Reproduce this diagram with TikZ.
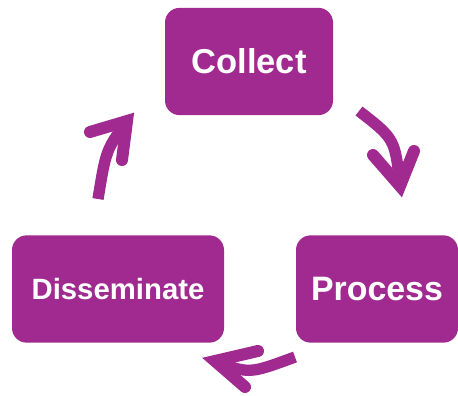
\documentclass[tikz,border=0pt]{standalone}
\usepackage{fontspec}
\setmainfont{Liberation Sans}

\definecolor{cyclepurple}{RGB}{160,42,143}

\tikzstyle{stage} = [rectangle, rounded corners=11pt, fill=cyclepurple,
    text=white, inner sep=0pt, minimum height=80.5pt]
\tikzstyle{cycleshaft} = [draw=cyclepurple, line width=8.5pt, line cap=butt]
\tikzstyle{cyclehead} = [draw=cyclepurple, line width=9pt, line cap=round,
    line join=miter]

\begin{document}
\begin{tikzpicture}[x=0.75pt, y=-0.75pt]
	\useasboundingbox (0,0) rectangle (458,396);
	\node [stage, minimum width=126pt, font=\bfseries\fontsize{25.9pt}{30pt}\selectfont] (collect) at (249,61.5) {Collect};
	\node [stage, minimum width=121.5pt, font=\bfseries\fontsize{25.4pt}{30pt}\selectfont] (process) at (377,289) {Process};
	\node [stage, minimum width=159pt, font=\bfseries\fontsize{22pt}{26pt}\selectfont] (dissem) at (118,289) {Disseminate};
	%
	\coordinate (cpa) at (359,111);
	\coordinate (cpb) at (400,186);
	\coordinate (cpl) at (373,155);
	\coordinate (cpr) at (414,151);
	%
	\coordinate (pda) at (295,357);
	\coordinate (pdb) at (215,361);
	\coordinate (pdl) at (258,351);
	\coordinate (pdr) at (245,387);
	%
	\coordinate (dca) at (98,199);
	\coordinate (dcb) at (127,121);
	\coordinate (dcl) at (90,132);
	\coordinate (dcr) at (122,160);
	%
	\draw [cycleshaft] (cpa) .. controls (395,139) .. (cpb);
	\draw [cyclehead] (cpl) -- (cpb) -- (cpr);
	\draw [cycleshaft] (pda) .. controls (249,374) .. (pdb);
	\draw [cyclehead] (pdl) -- (pdb) -- (pdr);
	\draw [cycleshaft] (dca) .. controls (106,150) .. (dcb);
	\draw [cyclehead] (dcl) -- (dcb) -- (dcr);
\end{tikzpicture}
\end{document}
